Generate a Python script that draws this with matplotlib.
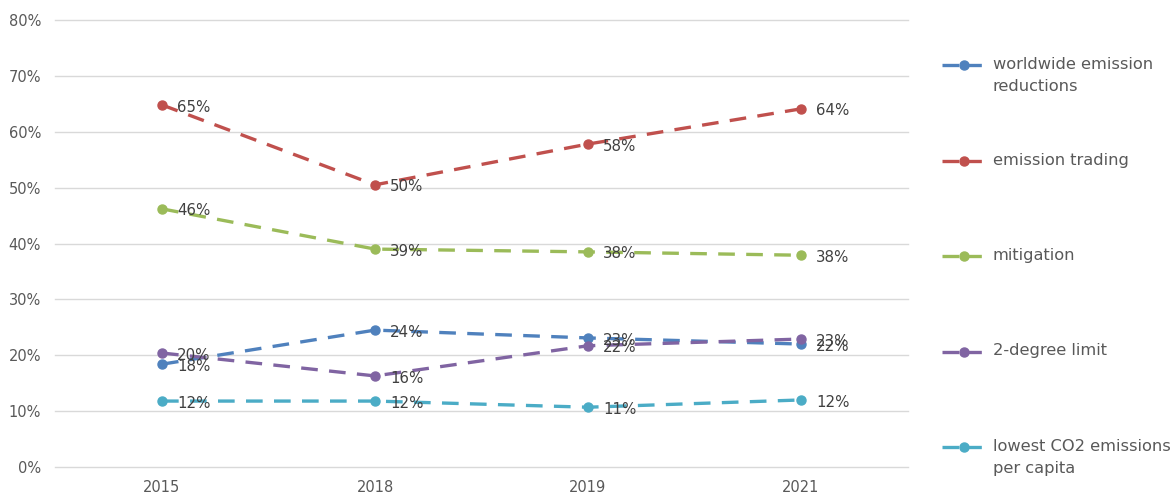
import matplotlib
matplotlib.use("Agg")
import matplotlib.pyplot as plt
from matplotlib.lines import Line2D

years = ["2015", "2018", "2019", "2021"]
series_names = ["worldwide emission\nreductions", "emission trading", "mitigation",
                "2-degree limit", "lowest CO2 emissions\nper capita"]
worldwide = [0.184, 0.245, 0.231, 0.220]
trading = [0.648, 0.505, 0.578, 0.641]
mitigation = [0.462, 0.390, 0.385, 0.379]
two_degree = [0.204, 0.163, 0.217, 0.229]
lowest_co2 = [0.118, 0.118, 0.107, 0.120]
labels = {
    "worldwide": ["18%", "24%", "23%", "22%"],
    "trading": ["65%", "50%", "58%", "64%"],
    "mitigation": ["46%", "39%", "38%", "38%"],
    "two_degree": ["20%", "16%", "22%", "23%"],
    "lowest": ["12%", "12%", "11%", "12%"],
}
yticks = [0, 0.1, 0.2, 0.3, 0.4, 0.5, 0.6, 0.7, 0.8]
ytick_labels = ["0%", "10%", "20%", "30%", "40%", "50%", "60%", "70%", "80%"]

colors = ["#4F81BD", "#C0504D", "#9BBB59", "#8064A2", "#4BACC6"]
data = [worldwide, trading, mitigation, two_degree, lowest_co2]
lab = [labels["worldwide"], labels["trading"], labels["mitigation"],
       labels["two_degree"], labels["lowest"]]

plt.rcParams['font.family'] = ['DejaVu Sans']
fig = plt.figure(figsize=(11.76, 4.96), dpi=100)
ax = fig.add_axes([55.5 / 1176, 29 / 496, 852 / 1176, 447 / 496])

x = list(range(len(years)))
dash = (5.0, 3.4)
for vals, c, lb in zip(data, colors, lab):
    ax.plot(x, vals, color=c, lw=2.4, linestyle=(0, dash), marker='o', ms=6.5,
            markeredgecolor=c, markerfacecolor=c, zorder=3, clip_on=False)
    for xi, v, t in zip(x, vals, lb):
        ax.annotate(t, (xi, v), xytext=(11, -1.5), textcoords='offset points',
                    ha='left', va='center', fontsize=10.8, color='#404040', zorder=4)

ax.set_xlim(-0.5, len(years) - 0.5)
ax.set_ylim(0, 0.8)
ax.set_xticks(x)
ax.set_xticklabels(years)
ax.set_yticks(yticks)
ax.set_yticklabels(ytick_labels)
ax.tick_params(axis='both', length=0, labelsize=10.5, colors='#595959')
ax.tick_params(axis='x', pad=9.5)
ax.tick_params(axis='y', pad=10.5)
for s in ax.spines.values():
    s.set_visible(False)
ax.grid(axis='y', color='#D9D9D9', lw=1)
for gl in ax.get_ygridlines():
    gl.set_clip_on(False)
ax.set_axisbelow(True)

# legend (manual, Excel-like evenly spaced entries)
leg_y_top = 1 - 65 / 496
leg_step = 95.5 / 496
hx0, hx1 = 942 / 1176, 985 / 1176
for i, (name, c) in enumerate(zip(series_names, colors)):
    yy = leg_y_top - i * leg_step
    fig.add_artist(Line2D([hx0, hx1], [yy, yy], transform=fig.transFigure,
                          color=c, lw=2.4, linestyle=(0, (5.0, 1.8))))
    fig.add_artist(Line2D([(hx0 + hx1) / 2], [yy], transform=fig.transFigure,
                          color=c, marker='o', ms=6.5, lw=0))
    fig.text(993 / 1176, yy + 8 / 496, name, ha='left', va='top',
             fontsize=11.7, color='#595959', linespacing=1.6)

fig.savefig("out.png", dpi=100, facecolor='white')
